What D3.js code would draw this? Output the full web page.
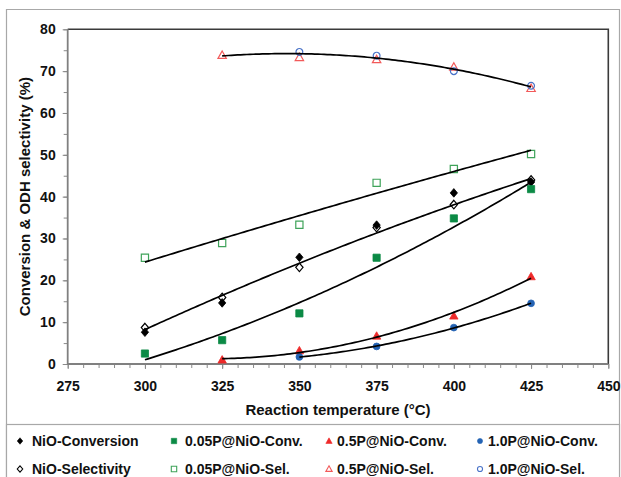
<!DOCTYPE html>
<html><head><meta charset="utf-8">
<script src="https://cdn.jsdelivr.net/npm/d3@7"></script>
<style>
html,body{margin:0;padding:0;background:#fff;}
svg{display:block;font-family:"Liberation Sans",Arial,sans-serif;}
</style></head>
<body>
<svg id="chart" width="621" height="477"></svg>
<script>
// ---- data ----
const temps = [300, 325, 350, 375, 400, 425];
const nioConv = [7.6, 14.6, 25.5, 33.2, 40.9, 43.5];
const nioSel = [8.7, 15.9, 23.1, 32.6, 38.1, 44.0];
const p005Conv = [2.5, 5.7, 12.1, 25.4, 34.8, 41.8];
const p005Sel = [25.4, 28.9, 33.3, 43.3, 46.6, 50.2];
const p05Temps = [325, 350, 375, 400, 425];
const p05Conv = [1.0, 3.2, 6.7, 11.5, 20.9];
const p05Sel = [73.8, 73.3, 72.8, 71.0, 65.9];
const p10Temps = [350, 375, 400, 425];
const p10Conv = [1.7, 4.2, 8.7, 14.5];
const p10Sel = [74.6, 73.7, 70.0, 66.5];
const seriesNames = ["NiO-Conversion", "0.05P@NiO-Conv.", "0.5P@NiO-Conv.", "1.0P@NiO-Conv.",
                     "NiO-Selectivity", "0.05P@NiO-Sel.", "0.5P@NiO-Sel.", "1.0P@NiO-Sel."];
const xTicks = [275, 300, 325, 350, 375, 400, 425, 450];
const yTicks = [0, 10, 20, 30, 40, 50, 60, 70, 80];
const xTitle = "Reaction temperature (°C)";
const yTitle = "Conversion & ODH selectivity (%)";

// ---- layout / style ----
const svg = d3.select("#chart");
const L = 67.7, R = 608.3, T = 29.3, B = 364;
const x = d3.scaleLinear().domain([275, 450]).range([L, R]);
const y = d3.scaleLinear().domain([0, 80]).range([B, T]);

const GREEN = "#0b8a45", GREEN_O = "#3fa35a", RED = "#ee2a2a", RED_O = "#f25a5a",
      BLUE = "#2463b4", BLUE_O = "#4a73c8";

function shapePath(kind, s) {
  if (kind === "diamond") return `M0,${-s}L${s*0.85},0L0,${s}L${-s*0.85},0Z`;
  if (kind === "square") return `M${-s},${-s}H${s}V${s}H${-s}Z`;
  if (kind === "triangle") return `M0,${-s*1.05}L${s*1.05},${s*0.8}L${-s*1.05},${s*0.8}Z`;
  if (kind === "circle") return `M${s},0A${s},${s} 0 1,1 ${-s},0A${s},${s} 0 1,1 ${s},0Z`;
}

const series = [
  {name: seriesNames[0], xs: temps, ys: nioConv, kind: "diamond", fill: "#000", stroke: "#000", size: 4.3},
  {name: seriesNames[1], xs: temps, ys: p005Conv, kind: "square", fill: GREEN, stroke: GREEN, size: 3.6},
  {name: seriesNames[2], xs: p05Temps, ys: p05Conv, kind: "triangle", fill: RED, stroke: RED, size: 4.0},
  {name: seriesNames[3], xs: p10Temps, ys: p10Conv, kind: "circle", fill: BLUE, stroke: BLUE, size: 3.4},
  {name: seriesNames[4], xs: temps, ys: nioSel, kind: "diamond", fill: "none", stroke: "#000", size: 4.3},
  {name: seriesNames[5], xs: temps, ys: p005Sel, kind: "square", fill: "none", stroke: GREEN_O, size: 3.6},
  {name: seriesNames[6], xs: p05Temps, ys: p05Sel, kind: "triangle", fill: "none", stroke: RED_O, size: 4.0},
  {name: seriesNames[7], xs: p10Temps, ys: p10Sel, kind: "circle", fill: "none", stroke: BLUE_O, size: 3.4}
];

// outer frame
svg.append("path").attr("d", "M6.5,477V9.5H619.5V477").attr("fill", "none").attr("stroke", "#a8a8a8").attr("stroke-width", 1.2);
// legend box
svg.append("rect").attr("x", 6.5).attr("y", 424.5).attr("width", 613).attr("height", 60)
  .attr("fill", "#fff").attr("stroke", "#a8a8a8").attr("stroke-width", 1.2);

// axes
const gx = svg.append("g").attr("transform", `translate(0,${B})`);
gx.call(d3.axisBottom(x).tickValues(d3.range(275, 451, 5)).tickSize(4).tickFormat(""))
  .call(g => g.select(".domain").remove());
gx.selectAll("line").attr("stroke", "#8a8a8a");
const gxm = svg.append("g").attr("transform", `translate(0,${B})`);
gxm.call(d3.axisBottom(x).tickValues(xTicks).tickSize(5).tickPadding(12).tickFormat(d3.format("d")))
  .call(g => g.select(".domain").remove());
gxm.selectAll("line").attr("stroke", "#8a8a8a");
gxm.selectAll("text").attr("font-size", "14px").attr("font-weight", "bold").attr("fill", "#111")
  .attr("font-family", "Liberation Sans, Arial, sans-serif");

const gy = svg.append("g").attr("transform", `translate(${L},0)`);
gy.call(d3.axisLeft(y).tickValues(d3.range(0, 81, 5)).tickSize(4).tickFormat(""))
  .call(g => g.select(".domain").remove());
gy.selectAll("line").attr("stroke", "#8a8a8a");
const gym = svg.append("g").attr("transform", `translate(${L},0)`);
gym.call(d3.axisLeft(y).tickValues(yTicks).tickSize(5).tickPadding(7).tickFormat(d3.format("d")))
  .call(g => g.select(".domain").remove());
gym.selectAll("line").attr("stroke", "#8a8a8a");
gym.selectAll("text").attr("font-size", "14px").attr("font-weight", "bold").attr("fill", "#111")
  .attr("font-family", "Liberation Sans, Arial, sans-serif");

// plot border
svg.append("path").attr("d", `M${L},${T}H${R}V${B}`).attr("fill", "none").attr("stroke", "#3a3a3a").attr("stroke-width", 1.6);
svg.append("path").attr("d", `M${L},${T}V${B}H${R}`).attr("fill", "none").attr("stroke", "#808080").attr("stroke-width", 1.8);

// markers
series.forEach(s => {
  svg.append("g").selectAll("path").data(s.xs.map((t, i) => [t, s.ys[i]])).join("path")
    .attr("transform", d => `translate(${x(d[0])},${y(d[1])})`)
    .attr("d", shapePath(s.kind, s.size))
    .attr("fill", s.fill).attr("stroke", s.stroke).attr("stroke-width", s.fill === "none" ? 1.2 : 0.8);
});

// quadratic least-squares trend lines
function quadFit(xs, ys) {
  const n = xs.length, m = d3.mean(xs);
  const u = xs.map(v => (v - m) / 25);
  let S = [0, 0, 0, 0, 0], Sy = [0, 0, 0];
  u.forEach((t, i) => {
    for (let k = 0; k < 5; k++) S[k] += Math.pow(t, k);
    for (let k = 0; k < 3; k++) Sy[k] += Math.pow(t, k) * ys[i];
  });
  const A = [[S[0], S[1], S[2], Sy[0]], [S[1], S[2], S[3], Sy[1]], [S[2], S[3], S[4], Sy[2]]];
  for (let i = 0; i < 3; i++) {
    let p = i; for (let r = i + 1; r < 3; r++) if (Math.abs(A[r][i]) > Math.abs(A[p][i])) p = r;
    [A[i], A[p]] = [A[p], A[i]];
    for (let r = 0; r < 3; r++) if (r !== i) {
      const f = A[r][i] / A[i][i];
      for (let c = i; c < 4; c++) A[r][c] -= f * A[i][c];
    }
  }
  const c = A.map((row, i) => row[3] / row[i]);
  return v => { const t = (v - m) / 25; return c[0] + c[1] * t + c[2] * t * t; };
}
const fits = [
  {xs: temps, ys: nioSel},
  {xs: temps, ys: p005Conv},
  {xs: temps, ys: p005Sel},
  {xs: p05Temps, ys: p05Conv},
  {xs: p10Temps, ys: p10Conv},
  {xs: p05Temps.concat(p10Temps), ys: p05Sel.concat(p10Sel)}
];
const line = d3.line().x(d => x(d[0])).y(d => y(d[1]));
fits.forEach(f => {
  const fn = quadFit(f.xs, f.ys);
  const lo = d3.min(f.xs), hi = d3.max(f.xs);
  const pts = d3.range(lo, hi + 0.01, 1).map(v => [v, fn(v)]);
  svg.append("path").attr("d", line(pts)).attr("fill", "none").attr("stroke", "#000").attr("stroke-width", 1.7);
});

// axis titles
svg.append("text").attr("x", (L + R) / 2).attr("y", 415).attr("text-anchor", "middle")
  .attr("font-size", "15px").attr("font-weight", "bold").attr("fill", "#111").text(xTitle);
svg.append("text").attr("transform", `translate(30,${(T + B) / 2}) rotate(-90)`).attr("text-anchor", "middle")
  .attr("font-size", "15px").attr("font-weight", "bold").attr("fill", "#111").text(yTitle);

// legend
const colMarker = [20, 174, 329, 480], colText = [32, 185, 337, 488], rowY = [441, 469];
series.forEach((s, i) => {
  const col = i % 4, row = Math.floor(i / 4);
  const g = svg.append("g");
  g.append("path").attr("transform", `translate(${colMarker[col]},${rowY[row]})`)
    .attr("d", shapePath(s.kind, s.size * 0.75))
    .attr("fill", s.fill).attr("stroke", s.stroke).attr("stroke-width", s.fill === "none" ? 1.1 : 0.6);
  g.append("text").attr("x", colText[col]).attr("y", rowY[row]).attr("dy", "0.36em")
    .attr("font-size", "14px").attr("font-weight", "bold").attr("fill", "#111").text(s.name);
});
</script>
</body></html>
